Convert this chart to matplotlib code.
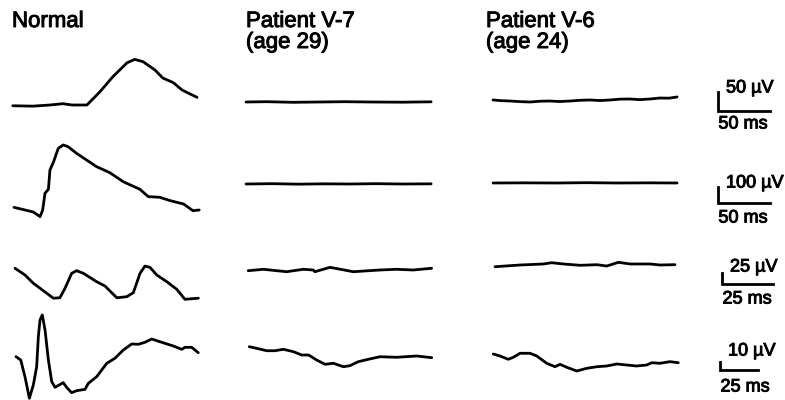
import matplotlib
matplotlib.use("Agg")
import numpy as np
import matplotlib.pyplot as plt
import matplotlib.patheffects as pe

plt.rcParams['font.family'] = ['Liberation Sans', 'DejaVu Sans']

W, H = 785, 400

column_titles = ["Normal", "Patient V-7\n(age 29)", "Patient V-6\n(age 24)"]

# scale bars per row: (µV, ms)
bar_uv = [50, 100, 25, 10]
bar_ms = [50, 50, 25, 25]

# --- row 1 (50 µV / 50 ms) ---
r1_normal_t = [0.7, 20, 36.5, 49, 57.7, 72, 84.6, 97, 110.6, 118, 126, 137.5, 145, 155, 163.5, 178]
r1_normal_uv = [-2, -3, 0, 3.4, 0, 0, 35, 74.5, 111, 120, 114, 92, 71, 59, 39.5, 20]
r1_v7_t = [0, 20, 45, 70, 95, 120, 150, 178]
r1_v7_uv = [0, 0.8, -0.8, 0, 0.8, 0, -0.5, 0.5]
r1_v6_t = [0, 8, 16.3, 26, 35.6, 45, 54.8, 64, 74, 84, 93.3, 103, 112.5, 122, 131.7, 141, 151, 160.6, 169, 177]
r1_v6_uv = [5.3, 3.5, 2.6, 1.0, 0, 2.0, 2.6, 1.2, 2.6, 4.5, 5.3, 3.8, 5.3, 7.5, 7.9, 6.2, 7.9, 10.5, 10.0, 13.2]

# --- row 2 (100 µV / 50 ms) ---
r2_normal_t = [1.9, 12.5, 20.5, 27, 29.5, 31.7, 35, 36.5, 40, 44.5, 49.3, 54, 62, 81.4, 94, 107,
               123, 131, 142, 152, 165, 174, 180]
r2_normal_uv = [4, -12.5, -25, -54, -12.5, 92, 117, 237.5, 289, 373, 394, 383, 342, 258, 221, 164,
                117, 71, 67, 46, 25, -17, -12.5]
r2_v7_t = [0, 25, 50, 75, 100, 125, 150, 178]
r2_v7_uv = [0, 2, -1, 1, 0, 2, 0, 1]
r2_v6_t = [0, 30, 60, 90, 120, 150, 177]
r2_v6_uv = [0, 1, 0, 2, 0, 1, 0]

# --- row 3 (25 µV / 25 ms) ---
r3_normal_t = [0, 4.9, 9, 13.9, 18.8, 22, 24.5, 27.8, 30.2, 33.5, 40, 44.1, 49.9, 54.8, 58, 61.3,
               63.7, 66.2, 69.5, 74.4, 79.3, 83.3, 89.9]
r3_normal_uv = [38, 22.7, 3.9, -13, -30, -29, -7.5, 26.6, 32.5, 26.6, 7.5, -2.3, -29, -26.6, -17.5,
                26.6, 43, 40, 22.7, 7.5, -9.8, -32.5, -30]
r3_v7_t = [0.1, 7.5, 18.9, 27.1, 32, 32.8, 40.2, 51.6, 64.7, 72.9, 81, 90]
r3_v7_uv = [-1.6, 1.6, -3.9, 1.6, 0, -3.9, 6.1, -3.9, 0, 1.6, 0, 3.9]
r3_v6_t = [0, 12.3, 23.7, 27.8, 33.5, 41.7, 49.9, 54.8, 60.5, 66.2, 76, 80.9, 88.2]
r3_v6_uv = [-3.9, 0, 2.3, 5.2, 2.3, -0.7, 0.7, -2.3, 6.1, 2.3, 2.3, 0, 0.7]

# --- row 4 (10 µV / 25 ms) ---
r4_normal_t = [0, 3.1, 5.9, 8.8, 11.4, 13.6, 14.7, 15.8, 17.3, 19.1, 21.3, 23.5, 25.7, 31.1, 33.3,
               36.6, 39.9, 45.4, 47.6, 53.1, 59.7, 65.1, 70.6, 76.1, 80.5, 84.9, 89.3, 94.7, 103.5,
               109, 111.2, 115.6, 119.9]
r4_normal_uv = [0.4, -3.75, -24.6, -51.6, -35, -12.1, 25.4, 46.3, 52.5, 33.8, -3.75, -30.9, -37.9,
                -32.1, -37.9, -44.6, -42.1, -40.4, -32.9, -24.6, -7.9, -1.6, 8.75, 16.25, 15.9,
                18.4, 22.5, 19.1, 13.75, 9.6, 12.1, 12.1, 5.4]
r4_v7_t = [0.2, 5, 11.6, 17.1, 22.6, 29.2, 34.7, 39.2, 44.5, 50, 55.5, 62.1, 66.4, 71.9, 78.5, 86.2,
           97.2, 110.3, 120.2]
r4_v7_uv = [6.6, 4.6, 1.6, 1.6, 3.4, 0.4, -3.75, -3.75, -10, -15.4, -14.1, -18.4, -17.1, -12.1,
            -9.1, -5.9, -6.6, -5, -7.1]
r4_v6_t = [0.2, 4.6, 10.1, 13.4, 17.8, 24.3, 28.8, 35.3, 40.8, 44.1, 48.5, 55.1, 61.7, 68.2, 74.8,
           81.4, 88, 94.5, 101.1, 104.4, 109.9, 116.4, 121.9]
r4_v6_uv = [7.5, 5, 0.9, 3.4, 8.4, 8.4, 5, -4.1, -8.4, -5.4, -9.1, -13.75, -10.4, -8.4, -7.5, -5,
            -6.25, -7.5, -6.25, -3.4, -4.1, -2.1, -3.4]

rows = [
    [(r1_normal_t, r1_normal_uv), (r1_v7_t, r1_v7_uv), (r1_v6_t, r1_v6_uv)],
    [(r2_normal_t, r2_normal_uv), (r2_v7_t, r2_v7_uv), (r2_v6_t, r2_v6_uv)],
    [(r3_normal_t, r3_normal_uv), (r3_v7_t, r3_v7_uv), (r3_v6_t, r3_v6_uv)],
    [(r4_normal_t, r4_normal_uv), (r4_v7_t, r4_v7_uv), (r4_v6_t, r4_v6_uv)],
]

# layout in pixels
px_per_ms = [1.04, 1.04, 2.04, 1.52]
px_per_uv = [0.38, 0.16, 0.44, 0.8]
trace_left = [[12, 246, 493], [12, 246, 493], [15, 248, 495], [16, 249, 493]]
trace_base = [[105, 102, 102], [208, 184, 183], [285, 270, 265], [357, 352, 360]]
bar_corner = [(718, 111), (718, 203), (722, 284), (720, 370)]
uv_label_y = [88, 183, 267, 351]
ms_label_y = [124, 218, 299, 387]

fig = plt.figure(figsize=(W / 100, H / 100), dpi=100)
lw = 2.0
heavy = [pe.withStroke(linewidth=0.7, foreground='black')]

for r in range(4):
    pm, pu = px_per_ms[r], px_per_uv[r]
    ax = fig.add_axes([0, 0, 1, 1])
    ax.set_xlim(0, W / pm)
    ax.set_ylim(-H / pu, 0)
    ax.axis('off')
    ax.patch.set_alpha(0)
    for c, (t, uv) in enumerate(rows[r]):
        x0 = trace_left[r][c] / pm
        y0 = -trace_base[r][c] / pu
        ax.plot(x0 + np.array(t), y0 + np.array(uv), color='black', lw=lw,
                solid_joinstyle='round', solid_capstyle='round')
    # scale bar
    cx, cy = bar_corner[r]
    bx, by = cx / pm, -cy / pu
    ax.plot([bx, bx, bx + bar_ms[r]], [by + bar_uv[r], by, by], color='black', lw=lw,
            solid_joinstyle='miter')
    fig.text((cx + 8) / W, 1 - uv_label_y[r] / H, f"{bar_uv[r]} µV", fontsize=13,
             ha='left', va='center', path_effects=heavy)
    fig.text((cx + 25) / W, 1 - ms_label_y[r] / H, f"{bar_ms[r]} ms", fontsize=13,
             ha='center', va='center', path_effects=heavy)

title_x = [12, 246, 486]
for x, s in zip(title_x, column_titles):
    fig.text(x / W, 1 - 11 / H, s, fontsize=16, ha='left', va='top', linespacing=1.0,
             path_effects=heavy)

fig.savefig("out.png", dpi=100, facecolor='white')
